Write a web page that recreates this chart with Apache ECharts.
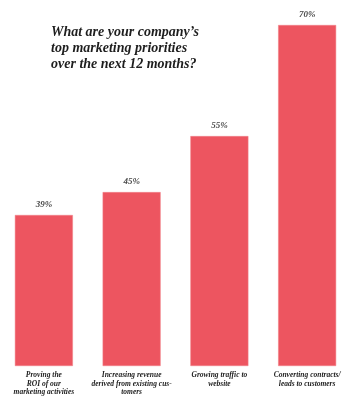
<!DOCTYPE html>
<html>
<head>
<meta charset="utf-8">
<script src="https://cdn.jsdelivr.net/npm/echarts@6/dist/echarts.min.js"></script>
<style>
html, body { margin: 0; padding: 0; background: #fff; }
#chart { width: 351px; height: 402px; }
</style>
</head>
<body>
<div id="chart"></div>
<script>
// categories and values
var categories = [
	"Proving the\nROI of our\nmarketing activities",
	"Increasing revenue\nderived from existing cus-\ntomers",
	"Growing traffic to\nwebsite",
	"Converting contracts/\nleads to customers"
];
// bar heights as drawn (the printed labels are not to scale)
var barHeights = [31, 35.7, 47.2, 70];
var barLabels = ["39%", "45%", "55%", "70%"];

var serif = "'Liberation Serif', 'DejaVu Serif', serif";

var chart = echarts.init(document.getElementById("chart"));
chart.setOption({
	animation: false,
	title: {
		text: "What are your company\u2019s\ntop marketing priorities\nover the next 12 months?",
		left: 46,
		top: 19,
		textStyle: {
			fontFamily: serif,
			fontStyle: "italic",
			fontWeight: "bold",
			fontSize: 14,
			lineHeight: 16,
			color: "#1e1e1e"
		}
	},
	grid: { left: 0, right: 0, top: 25, bottom: 36 },
	xAxis: {
		type: "category",
		data: categories,
		axisLine: { show: false },
		axisTick: { show: false },
		axisLabel: {
			interval: 0,
			margin: 5,
			fontFamily: serif,
			fontStyle: "italic",
			fontWeight: "bold",
			fontSize: 7.5,
			lineHeight: 8.5,
			color: "#222"
		}
	},
	yAxis: {
		type: "value",
		min: 0,
		max: 70,
		show: false,
		splitLine: { show: false }
	},
	series: [{
		type: "bar",
		data: barHeights,
		barWidth: 58,
		itemStyle: { color: "#ED5560", borderColor: "#F08088", borderWidth: 0.5 },
		label: {
			show: true,
			position: "top",
			distance: 6,
			formatter: function(p){ return barLabels[p.dataIndex]; },
			fontFamily: serif,
			fontStyle: "italic",
			fontWeight: "bold",
			fontSize: 9,
			color: "#4a4a4a"
		}
	}]
});
</script>
</body>
</html>
